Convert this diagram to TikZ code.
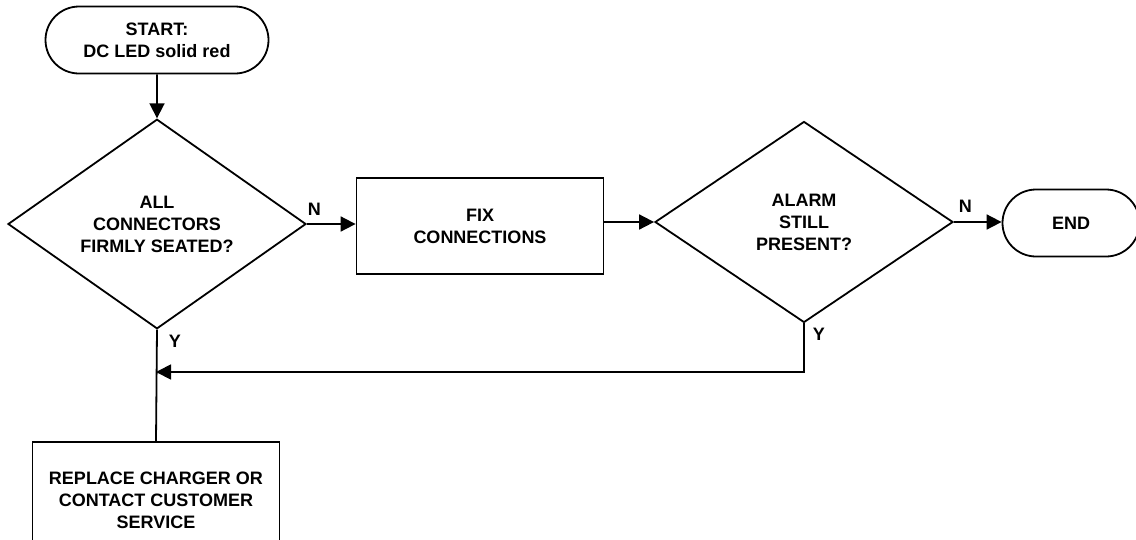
\documentclass[tikz,border=0pt]{standalone}
\usepackage{fontspec}
\setmainfont{Liberation Sans}
\usetikzlibrary{arrows.meta, positioning, shapes.geometric, shapes.misc}

\begin{document}
\begin{tikzpicture}[x=1pt, y=-1pt, line width=1.8pt, >={Triangle[length=15pt, width=15pt]},
    every node/.style={font=\fontsize{18}{22}\selectfont\bfseries, align=center},
    term/.style={draw, rounded rectangle, minimum height=67pt, inner sep=0pt},
    decision/.style={draw, diamond, minimum width=298pt, minimum height=201pt, inner sep=0pt},
    process/.style={draw, rectangle, minimum width=247pt, inner sep=0pt},
    lbl/.style={inner sep=0pt}]

\useasboundingbox (0,0) rectangle (1136,539);

% === Inicio y primera pregunta ===
\node[term, minimum width=223pt] (start) at (157,40) {START:\\DC LED solid red};
\node[decision] (seated) at (157,224) {ALL\\CONNECTORS\\FIRMLY SEATED?};

% === Reparar y segunda pregunta ===
\node[process, minimum height=96pt] (fix) at (480,226) {FIX\\CONNECTIONS};
\node[decision] (alarm) at (804,222) {ALARM\\STILL\\PRESENT?};
\node[term, minimum width=137pt] (end) at (1071,223) {END};

% === Caja final ===
\node[process, minimum height=116pt] (replace) at (156,500) {REPLACE CHARGER OR\\CONTACT CUSTOMER\\SERVICE};
\coordinate (join) at (156,372);

% Etiquetas S/N
\node[lbl, above right=8pt and 0pt of seated.east] (n1) {N};
\node[lbl, below right=5pt and 11pt of seated.south] (y1) {Y};
\node[lbl, above right=9pt and 4pt of alarm.east] (n2) {N};
\node[lbl, below right=4pt and 8pt of alarm.south] (y2) {Y};

% === Flechas ===
\draw[->] (start) -- (seated);
\draw[->] (seated.east) -- (fix.west |- seated.east);
\draw[->] (fix.east |- alarm.west) -- (alarm.west);
\draw[->] (alarm.east) -- (end.west |- alarm.east);
\draw[->] (alarm.south) |- (join);
\draw (seated.south) -- (replace.north);

\end{tikzpicture}
\end{document}
